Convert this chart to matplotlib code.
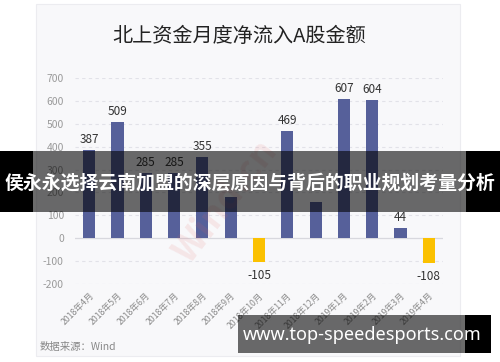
import numpy as np
import matplotlib.pyplot as plt
from matplotlib.patches import Rectangle

plt.rcParams['font.family'] = ['Noto Sans CJK SC', 'DejaVu Sans']

months = ['2018年4月', '2018年5月', '2018年6月', '2018年7月', '2018年8月', '2018年9月',
          '2018年10月', '2018年11月', '2018年12月', '2019年1月', '2019年2月', '2019年3月',
          '2019年4月']
inflow = [387, 509, 285, 285, 355, 179, -105, 469, 160, 607, 604, 44, -108]
shown = [True, True, True, True, True, False, True, True, False, True, True, True, True]
yticks = [-200, -100, 0, 100, 200, 300, 400, 500, 600, 700]

W, H = 500, 362
fig = plt.figure(figsize=(5, 3.62), dpi=100, facecolor='white')

def fx(px):
    return px / W

def fy(py):
    return 1 - py / H

# card behind the chart
fig.patches.append(Rectangle((fx(36), fy(356)), fx(460 - 36), (356 - 4) / H,
                             transform=fig.transFigure, facecolor='#f8f8fa',
                             edgecolor='#ececf0', lw=0.8, zorder=-2))

ax = fig.add_axes([fx(75), fy(284), fx(443 - 75), (284 - 78) / H])
ax.set_facecolor('none')

x = np.arange(len(months))
colors = ['#56609a' if v >= 0 else '#fbc100' for v in inflow]
ax.bar(x, inflow, width=0.43, color=colors, zorder=3)

for i, v in enumerate(inflow):
    if not shown[i]:
        continue
    if v >= 0:
        ax.text(i, v + 18, str(v), ha='center', va='bottom', fontsize=8.5, color='#333333')
    else:
        ax.text(i, v - 30, str(v), ha='center', va='top', fontsize=8.5, color='#333333')

ax.set_xlim(-0.5, len(months) - 0.5)
ax.set_ylim(-200, 700)
ax.set_yticks(yticks)
ax.set_yticklabels([str(t) for t in yticks])
for t in yticks:
    if t == 0:
        ax.axhline(0, color='#d8d8de', lw=0.9, zorder=2)
    else:
        ax.axhline(t, color='#e2e2e8', lw=0.8, ls=(0, (3, 3)), zorder=1)

ax.set_xticks(x)
ax.set_xticklabels(months, rotation=45, ha='right', rotation_mode='anchor',
                   fontsize=6.3, color='#8a8a8a')
ax.tick_params(axis='x', length=0, pad=5)
ax.tick_params(axis='y', length=0, pad=8, labelsize=7.5, labelcolor='#9a9a9a')
for s in ax.spines.values():
    s.set_visible(False)

# faint watermark
ax.text(4.8, 160, 'Wind.cn', fontsize=26, color='#e06060', alpha=0.12,
        rotation=52, ha='center', va='center', fontweight='bold', zorder=4)

fig.text(fx(239), fy(36), '北上资金月度净流入A股金额', ha='center', va='center',
         fontsize=14.5, color='#222222')
fig.text(fx(40), fy(347), '数据来源：Wind', ha='left', va='center',
         fontsize=7.5, color='#888888')

# overlay banner across the middle
fig.patches.append(Rectangle((0, fy(212)), fx(33), (212 - 151) / H,
                             transform=fig.transFigure, facecolor='black', zorder=5))
fig.patches.append(Rectangle((fx(466), fy(212)), fx(500 - 466), (212 - 151) / H,
                             transform=fig.transFigure, facecolor='black', zorder=5))
fig.patches.append(Rectangle((fx(33), fy(212)), fx(466 - 33), (212 - 151) / H,
                             transform=fig.transFigure, facecolor='black', alpha=0.58,
                             lw=0, zorder=5))
fig.text(0.5, fy(183), '侯永永选择云南加盟的深层原因与背后的职业规划考量分析',
         ha='center', va='center', fontsize=13.6, fontweight='bold', color='white',
         zorder=6)

# bottom url banner
fig.patches.append(Rectangle((fx(238), fy(353)), fx(465 - 238), (353 - 315) / H,
                             transform=fig.transFigure, facecolor='black', alpha=0.58,
                             lw=0, zorder=5))
fig.patches.append(Rectangle((fx(465), fy(353)), fx(491 - 465), (353 - 315) / H,
                             transform=fig.transFigure, facecolor='black', lw=0, zorder=5))
fig.text(fx(243), fy(335), 'www.top-speedesports.com', ha='left', va='center',
         fontsize=13, fontweight='bold', color='white', family=['Noto Sans', 'DejaVu Sans'],
         zorder=6)

fig.savefig('out.png', dpi=100, facecolor='white')
